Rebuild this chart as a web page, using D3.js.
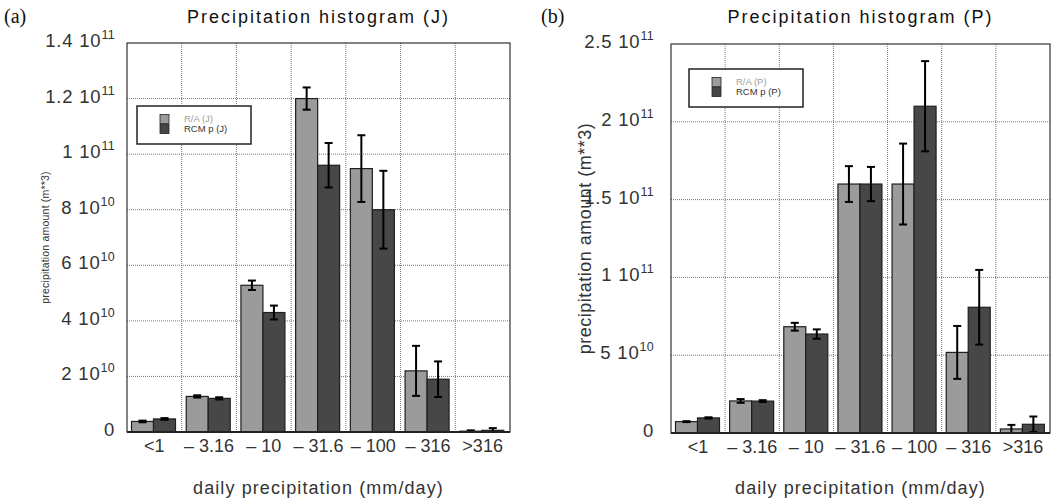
<!DOCTYPE html>
<html>
<head>
<meta charset="utf-8">
<script src="https://cdn.jsdelivr.net/npm/d3@7"></script>
<style>
  body { margin: 0; background: #fff; }
  svg { display: block; }
  text { font-family: "Liberation Sans", Arial, sans-serif; fill: #333; }
</style>
</head>
<body>
<div id="chart"></div>
<script>
// Categories (daily precipitation classes)
const categories = ["<1", "\u2013 3.16", "\u2013 10", "\u2013 31.6", "\u2013 100", "\u2013 316", ">316"];

// Panel (a): J
const raJ     = [3.8e9, 12.8e9, 52.8e9, 120e9, 94.8e9, 22e9, 0.3e9];
const raJErr  = [0.3e9, 0.4e9, 1.7e9, 4e9, 12e9, 9e9, 0.3e9];
const rcmJ    = [4.7e9, 12.1e9, 43e9, 96e9, 80e9, 19e9, 0.6e9];
const rcmJErr = [0.3e9, 0.4e9, 2.5e9, 8e9, 14e9, 6.4e9, 0.8e9];
const yTicksJ = [0, 2e10, 4e10, 6e10, 8e10, 1e11, 1.2e11, 1.4e11];

// Panel (b): P
const raP     = [7.3e9, 20.6e9, 68.3e9, 160e9, 160e9, 51.8e9, 2.6e9];
const raPErr  = [0.3e9, 1.2e9, 2.5e9, 11.5e9, 26e9, 17e9, 2.6e9];
const rcmP    = [9.7e9, 20.5e9, 63.6e9, 160e9, 210e9, 80.8e9, 5.6e9];
const rcmPErr = [0.4e9, 0.6e9, 3e9, 11e9, 29e9, 24e9, 5e9];
const yTicksP = [0, 5e10, 1e11, 1.5e11, 2e11, 2.5e11];

const W = 1064, H = 502;
const svg = d3.select("#chart").append("svg")
  .attr("width", W)
  .attr("height", H);

const raColor = "#9b9b9b";
const rcmColor = "#474747";

function tickLabel(sel, v) {
  if (v === 0) { sel.text("0"); return; }
  const e = Math.floor(Math.log10(v) + 1e-9);
  const m = +(v / Math.pow(10, e)).toFixed(2);
  sel.append("tspan").text(m + " 10");
  sel.append("tspan")
    .attr("dy", -8)
    .style("font-size", "12.5px")
    .style("letter-spacing", "0.3px")
    .text(e);
}

function drawPanel(p) {
  const g = svg.append("g");

  const x = d3.scaleBand()
    .domain(categories)
    .range([p.x0, p.x1])
    .padding(0);

  const xSub = d3.scaleBand()
    .domain(["ra", "rcm"])
    .range([4.5, 4.5 + 44]);

  const y = d3.scaleLinear()
    .domain([0, p.yMax])
    .range([p.y1, p.y0]);

  // Grid lines
  g.selectAll("line.hgrid")
    .data(p.ticks.slice(1, -1))
    .join("line")
    .attr("class", "hgrid")
    .attr("x1", p.x0).attr("x2", p.x1)
    .attr("y1", d => y(d)).attr("y2", d => y(d))
    .attr("stroke", "#777")
    .attr("stroke-width", 1)
    .attr("stroke-dasharray", "1,1");

  g.selectAll("line.vgrid")
    .data(categories.slice(1))
    .join("line")
    .attr("class", "vgrid")
    .attr("x1", d => x(d)).attr("x2", d => x(d))
    .attr("y1", p.y0).attr("y2", p.y1)
    .attr("stroke", "#777")
    .attr("stroke-width", 1)
    .attr("stroke-dasharray", "1,1");

  // Bars
  const rows = categories.map((c, i) => ([
    { cat: c, s: "ra", v: p.ra[i], err: p.raErr[i], color: raColor },
    { cat: c, s: "rcm", v: p.rcm[i], err: p.rcmErr[i], color: rcmColor }
  ])).flat();

  g.selectAll("rect.bar")
    .data(rows)
    .join("rect")
    .attr("class", "bar")
    .attr("x", d => x(d.cat) + xSub(d.s))
    .attr("y", d => y(d.v))
    .attr("width", xSub.bandwidth())
    .attr("height", d => y(0) - y(d.v))
    .attr("fill", d => d.color)
    .attr("stroke", "#1e1e1e")
    .attr("stroke-width", 1.2);

  // Error bars
  const eb = g.selectAll("g.err")
    .data(rows)
    .join("g")
    .attr("class", "err")
    .attr("transform", d => `translate(${x(d.cat) + xSub(d.s) + xSub.bandwidth() / 2},0)`);

  eb.append("line")
    .attr("y1", d => y(d.v + d.err))
    .attr("y2", d => y(Math.max(0, d.v - d.err)))
    .attr("stroke", "#000")
    .attr("stroke-width", 2);
  eb.append("line")
    .attr("x1", -4).attr("x2", 4)
    .attr("y1", d => y(d.v + d.err)).attr("y2", d => y(d.v + d.err))
    .attr("stroke", "#000")
    .attr("stroke-width", 2);
  eb.append("line")
    .attr("x1", -4).attr("x2", 4)
    .attr("y1", d => y(Math.max(0, d.v - d.err))).attr("y2", d => y(Math.max(0, d.v - d.err)))
    .attr("stroke", "#000")
    .attr("stroke-width", 2);

  // Frame
  g.append("rect")
    .attr("x", p.x0).attr("y", p.y0)
    .attr("width", p.x1 - p.x0).attr("height", p.y1 - p.y0)
    .attr("fill", "none")
    .attr("stroke", "#333")
    .attr("stroke-width", 1.2);
  g.append("line")
    .attr("x1", p.x0).attr("x2", p.x1)
    .attr("y1", p.y1).attr("y2", p.y1)
    .attr("stroke", "#222")
    .attr("stroke-width", 2);

  // Y tick labels
  g.selectAll("text.ytick")
    .data(p.ticks)
    .join("text")
    .attr("class", "ytick")
    .attr("x", p.x0 - p.tickGap)
    .attr("y", d => y(d) + 4)
    .attr("text-anchor", "end")
    .style("font-size", "18.5px")
    .style("letter-spacing", "0.8px")
    .each(function(d) { tickLabel(d3.select(this), d); });

  // X tick labels
  g.selectAll("text.xtick")
    .data(categories)
    .join("text")
    .attr("class", "xtick")
    .attr("x", d => x(d) + x.bandwidth() / 2)
    .attr("y", p.y1 + 20)
    .attr("text-anchor", "middle")
    .style("font-size", "18px")
    .text(d => d);

  // X axis title
  g.append("text")
    .attr("x", (p.x0 + p.x1) / 2)
    .attr("y", 494)
    .attr("text-anchor", "middle")
    .style("font-size", "18px")
    .style("letter-spacing", "1.1px")
    .text("daily precipitation (mm/day)");

  // Y axis title
  g.append("text")
    .attr("transform", `translate(${p.yTitleX},${(p.y0 + p.y1) / 2}) rotate(-90)`)
    .attr("text-anchor", "middle")
    .style("font-size", p.yTitleSize + "px")
    .style("letter-spacing", p.yTitleSpacing + "px")
    .text("precipitation amount (m**3)");

  // Title
  g.append("text")
    .attr("x", (p.x0 + p.x1) / 2)
    .attr("y", 23)
    .attr("text-anchor", "middle")
    .style("font-size", "18px")
    .style("letter-spacing", "2px")
    .style("fill", "#111")
    .text(p.title);

  // Panel label
  g.append("text")
    .attr("x", p.labelX)
    .attr("y", 23)
    .style("font-family", "'Liberation Serif', 'DejaVu Serif', serif")
    .style("font-size", "20px")
    .style("fill", "#111")
    .text(p.label);

  // Legend
  const lg = g.append("g").attr("transform", `translate(${p.legX},${p.legY})`);
  lg.append("rect")
    .attr("width", 114).attr("height", 38)
    .attr("fill", "#fff")
    .attr("stroke", "#222")
    .attr("stroke-width", 1.5);
  const items = [
    { name: p.legRa, color: raColor, txt: "#a0a0a0" },
    { name: p.legRcm, color: rcmColor, txt: "#333" }
  ];
  items.forEach((it, i) => {
    lg.append("rect")
      .attr("x", 23).attr("y", 8.5 + i * 10)
      .attr("width", 9).attr("height", 9)
      .attr("fill", it.color)
      .attr("stroke", "#222")
      .attr("stroke-width", 0.8);
    lg.append("text")
      .attr("x", 47).attr("y", 16 + i * 10)
      .style("font-size", "9.5px")
      .style("fill", it.txt)
      .text(it.name);
  });
}

drawPanel({
  x0: 127, x1: 510, y0: 43, y1: 432,
  yMax: 1.4e11, ticks: yTicksJ, tickGap: 12,
  ra: raJ, raErr: raJErr, rcm: rcmJ, rcmErr: rcmJErr,
  title: "Precipitation histogram (J)", label: "(a)", labelX: 4,
  yTitleX: 49, yTitleSize: 10.5, yTitleSpacing: 0.2,
  legX: 137, legY: 106, legRa: "R/A (J)", legRcm: "RCM p (J)"
});

drawPanel({
  x0: 671, x1: 1050, y0: 44, y1: 433,
  yMax: 2.5e11, ticks: yTicksP, tickGap: 17,
  ra: raP, raErr: raPErr, rcm: rcmP, rcmErr: rcmPErr,
  title: "Precipitation histogram (P)", label: "(b)", labelX: 541,
  yTitleX: 591, yTitleSize: 18, yTitleSpacing: 0.5,
  legX: 689, legY: 69, legRa: "R/A (P)", legRcm: "RCM p (P)"
});
</script>
</body>
</html>
